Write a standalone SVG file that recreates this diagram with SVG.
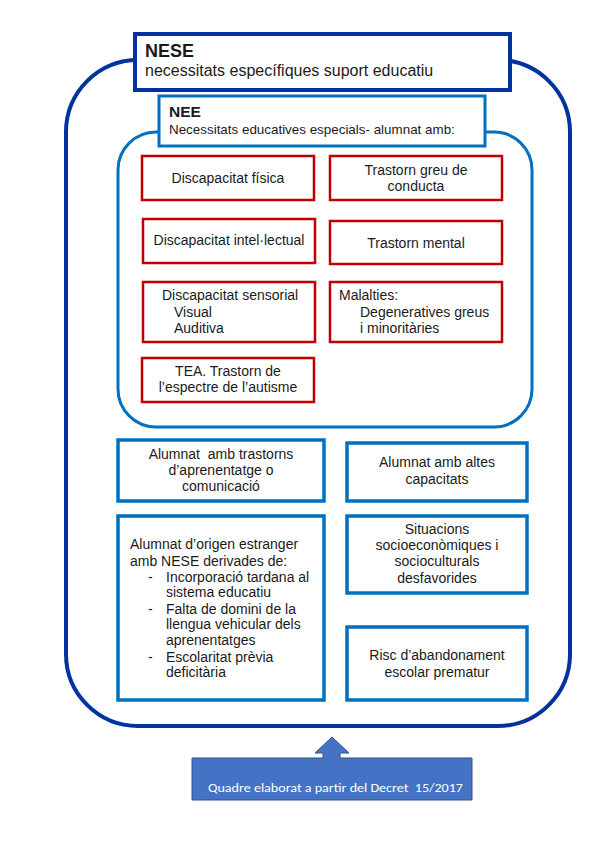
<svg xmlns="http://www.w3.org/2000/svg" width="599" height="848" viewBox="0 0 599 848">
<style>
text{font-family:"Liberation Sans",Arial,sans-serif;fill:#1a1a1a;font-size:14px}
.c{text-anchor:middle}
.b{font-weight:bold}
.t1{font-size:18px;font-weight:bold}
.t1s{font-size:16px}
.t2{font-size:15.5px;font-weight:bold}
.t2s{font-size:13.4px}
.red{fill:#fff;stroke:#c00000;stroke-width:2.5}
.blu{fill:#fff;stroke:#0070c0;stroke-width:3.5}
.foot{font-family:Carlito,Lato,"Open Sans",sans-serif;fill:#fff;font-size:12.5px;font-weight:normal}
</style>
<g id="connectors"></g>
<g id="nese-container">
<rect x="66" y="60" width="504" height="666" rx="72" ry="72" fill="#fff" stroke="#0033a0" stroke-width="4"/>
</g>
<g id="nese-title">
<rect x="135" y="34" width="375" height="56" fill="#fff" stroke="#0033a0" stroke-width="4"/>
<text class="t1" x="145" y="57">NESE</text>
<text class="t1s" x="145" y="76">necessitats específiques suport educatiu</text>
</g>
<g id="nee-container">
<rect x="118" y="132" width="414" height="295" rx="38" ry="38" fill="#fff" stroke="#0070c0" stroke-width="3"/>
</g>
<g id="nee-title">
<rect x="159" y="96" width="326" height="50" fill="#fff" stroke="#0070c0" stroke-width="3"/>
<text class="t2" x="169" y="117">NEE</text>
<text class="t2s" x="169" y="134">Necessitats educatives especials- alumnat amb:</text>
</g>
<g id="fisica">
<rect class="red" x="142" y="156" width="172" height="44"/>
<text class="c" x="228" y="183">Discapacitat física</text>
</g>
<g id="conducta">
<rect class="red" x="330" y="156" width="172" height="44"/>
<text class="c" x="416" y="175">Trastorn greu de</text>
<text class="c" x="416" y="191">conducta</text>
</g>
<g id="intel">
<rect class="red" x="143" y="219" width="172" height="44"/>
<text class="c" x="229" y="245">Discapacitat intel·lectual</text>
</g>
<g id="mental">
<rect class="red" x="330" y="221" width="172" height="43"/>
<text class="c" x="416" y="248">Trastorn mental</text>
</g>
<g id="sensorial">
<rect class="red" x="143" y="282" width="172" height="60"/>
<text x="162" y="300">Discapacitat sensorial</text>
<text x="174" y="317">Visual</text>
<text x="174" y="333">Auditiva</text>
</g>
<g id="malalties">
<rect class="red" x="330" y="282" width="172" height="60"/>
<text x="339" y="300">Malalties:</text>
<text x="360" y="317">Degeneratives greus</text>
<text x="360" y="333">i minoritàries</text>
</g>
<g id="tea">
<rect class="red" x="142" y="358" width="172" height="44"/>
<text class="c" x="228" y="376">TEA. Trastorn de</text>
<text class="c" x="228" y="392">l’espectre de l’autisme</text>
</g>
<g id="aprenentatge">
<rect class="blu" x="118" y="440" width="206" height="61"/>
<text class="c" x="221" y="459" xml:space="preserve">Alumnat  amb trastorns</text>
<text class="c" x="221" y="475">d’aprenentatge o</text>
<text class="c" x="221" y="491">comunicació</text>
</g>
<g id="altes">
<rect class="blu" x="347" y="443" width="180" height="58"/>
<text class="c" x="437" y="467">Alumnat amb altes</text>
<text class="c" x="437" y="484">capacitats</text>
</g>
<g id="estranger">
<rect class="blu" x="118" y="516" width="206" height="184"/>
<text x="130" y="549">Alumnat d’origen estranger</text>
<text x="130" y="566">amb NESE derivades de:</text>
<text x="148" y="582">-</text><text x="166" y="582">Incorporació tardana al</text>
<text x="166" y="597">sistema educatiu</text>
<text x="148" y="614">-</text><text x="166" y="614">Falta de domini de la</text>
<text x="166" y="629">llengua vehicular dels</text>
<text x="166" y="645">aprenentatges</text>
<text x="148" y="662">-</text><text x="166" y="662">Escolaritat prèvia</text>
<text x="166" y="677">deficitària</text>
</g>
<g id="socio">
<rect class="blu" x="347" y="516" width="180" height="77"/>
<text class="c" x="437" y="534">Situacions</text>
<text class="c" x="437" y="550">socioeconòmiques i</text>
<text class="c" x="437" y="566">socioculturals</text>
<text class="c" x="437" y="583">desfavorides</text>
</g>
<g id="risc">
<rect class="blu" x="347" y="627" width="180" height="73"/>
<text class="c" x="437" y="660">Risc d’abandonament</text>
<text class="c" x="437" y="677">escolar prematur</text>
</g>
<g id="font">
<path d="M192,758 H323 V753 H315 L332,737 L349,753 H340 V758 H472 V800 H192 Z" fill="#4472c4" stroke="#2f528f" stroke-width="1"/>
<text class="foot" x="208" y="792" textLength="255" lengthAdjust="spacingAndGlyphs" xml:space="preserve">Quadre elaborat a partir del Decret  15/2017</text>
</g>
</svg>
